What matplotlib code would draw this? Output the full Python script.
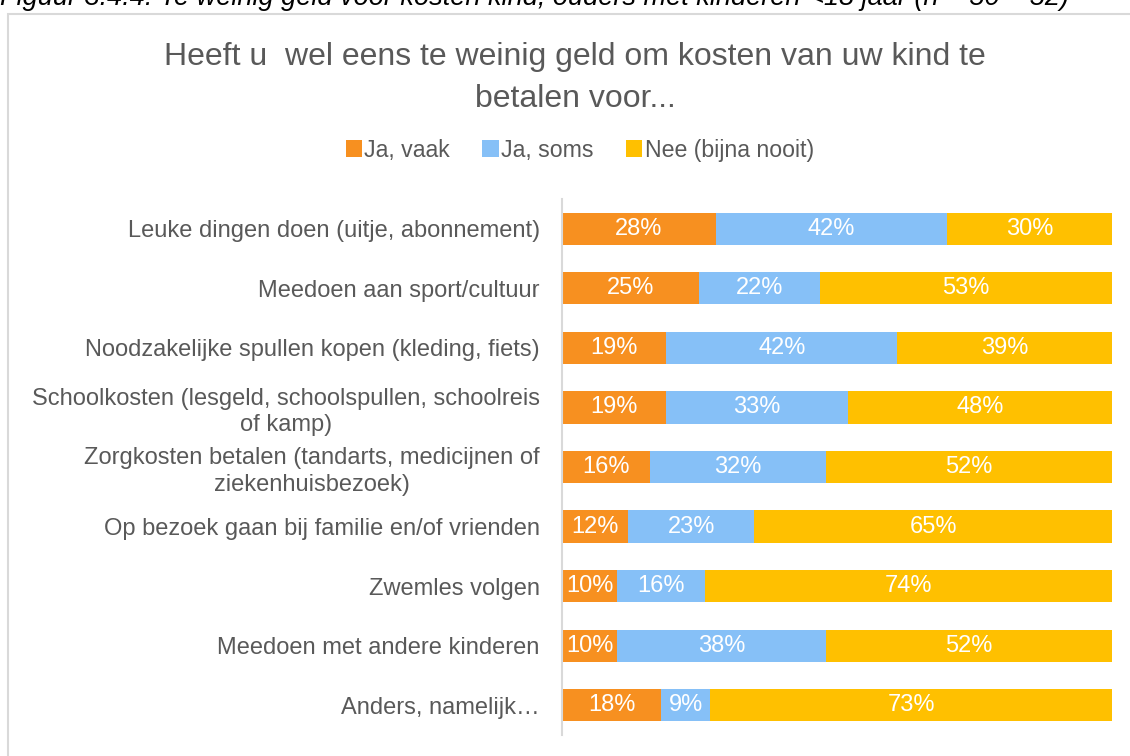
import numpy as np
import matplotlib
matplotlib.use("Agg")
import matplotlib.pyplot as plt
from matplotlib.patches import Patch, Rectangle

plt.rcParams['font.family'] = ['Liberation Sans', 'DejaVu Sans']

categories = [
    "Leuke dingen doen (uitje, abonnement)",
    "Meedoen aan sport/cultuur",
    "Noodzakelijke spullen kopen (kleding, fiets)",
    "Schoolkosten (lesgeld, schoolspullen, schoolreis\nof kamp)",
    "Zorgkosten betalen (tandarts, medicijnen of\nziekenhuisbezoek)",
    "Op bezoek gaan bij familie en/of vrienden",
    "Zwemles volgen",
    "Meedoen met andere kinderen",
    "Anders, namelijk\u2026",
]
ja_vaak = [28, 25, 19, 19, 16, 12, 10, 10, 18]
ja_soms = [42, 22, 42, 33, 32, 23, 16, 38, 9]
nee = [30, 53, 39, 48, 52, 65, 74, 52, 73]
series_names = ["Ja, vaak", "Ja, soms", "Nee (bijna nooit)"]
colors = ["#F79020", "#86C0F7", "#FFC000"]

fig = plt.figure(figsize=(11.3, 7.56), dpi=100)
ax = fig.add_axes([0.4973, 0.0278, 0.4867, 0.709])

y = np.arange(len(categories))
left = np.zeros(len(categories))
for vals, col in zip([ja_vaak, ja_soms, nee], colors):
    vals = np.array(vals)
    ax.barh(y, vals, left=left, height=0.54, color=col, edgecolor="none")
    for yi, l, v in zip(y, left, vals):
        ax.text(l + v / 2, yi, f"{v}%", ha="center", va="center",
                color="white", fontsize=17)
    left += vals

ax.set_xlim(0, 100)
ax.set_ylim(len(categories) - 0.5, -0.5)
ax.set_yticks(y)
ax.set_yticklabels(categories, fontsize=17, color="#595959", multialignment="center",
                   linespacing=1.25)
ax.tick_params(axis="y", length=0, pad=16)
ax.set_xticks([])
for s in ["top", "right", "bottom"]:
    ax.spines[s].set_visible(False)
ax.spines["left"].set_color("#D9D9D9")
ax.spines["left"].set_linewidth(1.5)

fig.text(0.509, 0.897, "Heeft u  wel eens te weinig geld om kosten van uw kind te\nbetalen voor...",
         ha="center", va="center", fontsize=23, color="#595959", linespacing=1.5)

handles = [Patch(facecolor=c, edgecolor="none") for c in colors]
fig.legend(handles, series_names, loc="center", bbox_to_anchor=(0.513, 1 - 150 / 756),
           ncol=3, frameon=False, fontsize=16.7, labelcolor="#595959",
           handlelength=0.7, handleheight=0.7, handletextpad=0.1, columnspacing=1.4)

fig.patches.append(Rectangle((8 / 1130, -0.02), 1.1, 0.02 + (756 - 14) / 756,
                             transform=fig.transFigure, fill=False,
                             edgecolor="#D9D9D9", linewidth=1.5))

fig.text(0.0, 1 - 5 / 756,
         "Figuur 3.4.4: Te weinig geld voor kosten kind, ouders met kinderen <18 jaar (n = 50 \u2013 52)",
         ha="left", va="baseline", fontsize=19.5, style="italic", color="black")

fig.savefig("out.png", dpi=100)
